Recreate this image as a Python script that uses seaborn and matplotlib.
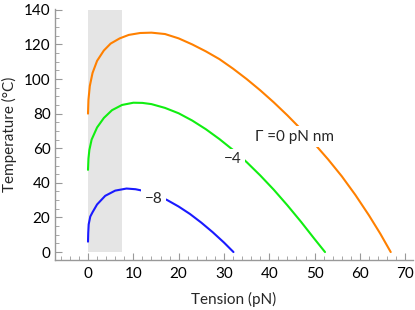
"""
Température de fusion en fonction de la tension, pour trois couples Γ.
"""

import numpy as np
import pandas as pd
import matplotlib
matplotlib.use("Agg")
import matplotlib.pyplot as plt
from matplotlib.ticker import MultipleLocator
import seaborn as sns

# Valeurs (tension en pN, température en °C)
tension_0 = [0, 0.1, 0.4, 1, 2, 3.5, 5, 7, 9, 11.5, 14, 17, 20, 23, 26, 29,
             32, 35, 38, 41, 44, 47, 50, 53, 56, 59, 62, 64.5, 66.8]
temp_0 = [80, 88, 96, 103.5, 110.5, 116.5, 120.5, 123.5, 125.5, 126.6, 126.8,
          126, 123.5, 120, 116, 111.5, 106, 100, 93.5, 86.5, 79, 71, 62.5,
          53.5, 43.8, 33, 21.2, 10.6, 0]

tension_4 = [0, 0.1, 0.3, 0.8, 2, 3.5, 5.3, 7.5, 10, 12, 14, 17, 20, 23, 26,
             29, 32, 35, 38, 41, 44, 47, 50, 52.3]
temp_4 = [47.5, 54, 59, 65, 72, 77.5, 82, 85, 86.3, 86.2, 85.5, 83.3, 80.2,
          76, 71, 65.3, 59, 52, 44.3, 36, 27, 17.5, 7.5, 0]

tension_8 = [0, 0.05, 0.15, 0.5, 1, 2, 3.8, 6, 8.5, 10.5, 12.5, 15, 17.5, 20,
             22.5, 25, 27.5, 30, 32.1]
temp_8 = [6, 11, 16, 20.5, 23, 27.5, 32.5, 35.5, 36.7, 36.3, 35.2, 33, 30,
          26.3, 22, 17, 11.5, 5.5, 0]

series_names = ["0", "-4", "-8"]
series_colors = ["#ff8000", "#11ee11", "#1a1aff"]

# Zone grisée (domaine de tension)
shade_range = (0, 7.4)
shade_height = 140

# Étiquettes des courbes : (texte, tension, température)
curve_labels = [("Γ =0 pN nm", 45.6, 66.5),
                ("\u22124", 31.9, 53.5),
                ("\u22128", 14.5, 30.5)]


def build_frame():
    """Assemble les séries dans un DataFrame long."""
    frames = []
    for name, f, t in zip(series_names,
                          [tension_0, tension_4, tension_8],
                          [temp_0, temp_4, temp_8]):
        frames.append(pd.DataFrame({"tension": f, "temp": t, "gamma": name}))
    return pd.concat(frames, ignore_index=True)


def main():
    sns.set_style("white")
    plt.rcParams["font.family"] = ["Lato", "DejaVu Sans"]
    plt.rcParams["font.size"] = 11

    data = build_frame()

    fig = plt.figure(figsize=(4.15, 3.10), dpi=100)
    ax = fig.add_axes([0.1318, 0.1613, 0.8632, 0.8087])

    ax.fill_between(list(shade_range), 0, shade_height, color="#e5e5e5",
                    linewidth=0, zorder=0)

    for name, color in zip(series_names, series_colors):
        sub = data[data["gamma"] == name]
        sns.lineplot(x=sub["tension"], y=sub["temp"], color=color,
                     linewidth=1.5, sort=False, ax=ax, zorder=2)

    for text, x, y in curve_labels:
        ax.text(x, y, text, ha="center", va="center", fontsize=11,
                zorder=3, bbox=dict(facecolor="white", edgecolor="none",
                                    pad=2.5))

    ax.set_xlim(-7.35, 71.7)
    ax.set_ylim(-4.6, 140.3)

    ax.xaxis.set_major_locator(MultipleLocator(10))
    ax.xaxis.set_minor_locator(MultipleLocator(2))
    ax.yaxis.set_major_locator(MultipleLocator(20))
    ax.yaxis.set_minor_locator(MultipleLocator(5))

    for side in ["top", "right"]:
        ax.spines[side].set_visible(False)
    for side in ["left", "bottom"]:
        ax.spines[side].set_color("#999999")
        ax.spines[side].set_linewidth(1.0)

    ax.tick_params(which="both", bottom=True, left=True)
    ax.tick_params(which="major", direction="in", length=5, width=0.8,
                   color="#999999", labelsize=11, labelcolor="black")
    ax.tick_params(which="minor", direction="in", length=3, width=0.6,
                   color="#999999")
    ax.tick_params(axis="x", which="major", pad=5)
    ax.tick_params(axis="y", which="major", pad=3)

    ax.set_xlabel("Tension (pN)", fontsize=11, labelpad=8)
    ax.set_ylabel("Temperature (°C)", fontsize=11, labelpad=5)

    fig.savefig("out.png", dpi=100)


if __name__ == "__main__":
    main()
